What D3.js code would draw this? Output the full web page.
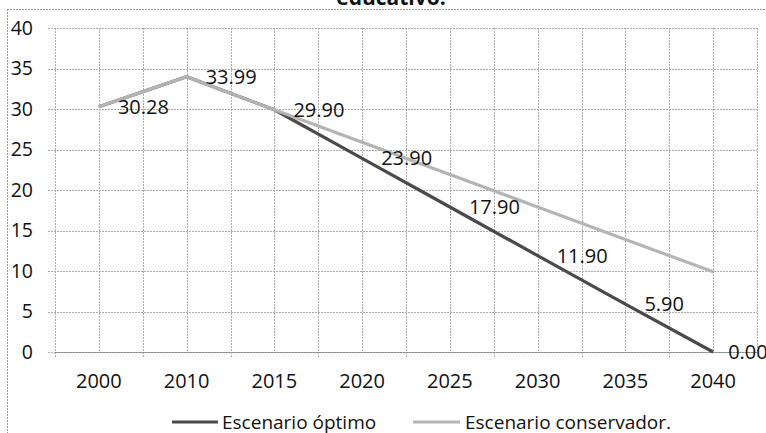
<!DOCTYPE html>
<html><head><meta charset="utf-8">
<script src="https://cdn.jsdelivr.net/npm/d3@7"></script>
<style>
html,body{margin:0;padding:0;background:#fff;}
svg{display:block;font-family:"Open Sans",sans-serif;}
</style></head>
<body>
<svg id="chart" width="766" height="433"></svg>
<script>
const years = ["2000","2010","2015","2020","2025","2030","2035","2040"];
const optimo = [30.28, 33.99, 29.90, 23.90, 17.90, 11.90, 5.90, 0.00];
const conservador = [30.28, 33.99, 29.90, 25.90, 21.90, 17.90, 13.90, 9.90];
const yTicks = [0,5,10,15,20,25,30,35,40];
const seriesNames = ["Escenario óptimo","Escenario conservador."];
const titleText = "educativo.";

(function(){
const svg = d3.select("#chart");
const pL = 55, pR = 757, pT = 28, pB = 352;

const x = d3.scaleBand().domain(years).range([pL, pR]).padding(0);
const y = d3.scaleLinear().domain([0,40]).range([pB, pT]);
const bw = x.bandwidth();

// outer chart border (partial)
svg.append("line").attr("x1",7).attr("x2",766).attr("y1",9.5).attr("y2",9.5)
  .attr("stroke","#999").attr("stroke-dasharray","2,1");
svg.append("line").attr("x1",7.5).attr("x2",7.5).attr("y1",9).attr("y2",433)
  .attr("stroke","#999").attr("stroke-dasharray","2,1");

// title (clipped at top, as in the reference)
svg.append("text").attr("x",391).attr("y",5).attr("text-anchor","middle")
  .attr("font-weight","bold").attr("font-size",21).attr("fill","#111").text(titleText);

const grid = svg.append("g").attr("stroke","#adadad").attr("stroke-dasharray","2,1").attr("stroke-width",1);
yTicks.forEach(t => {
  grid.append("line").attr("x1",48).attr("x2",pR).attr("y1",Math.round(y(t))+0.5).attr("y2",Math.round(y(t))+0.5);
});
years.forEach((yr,i) => {
  const x0 = x(yr);
  grid.append("line").attr("x1",Math.round(x0)+0.5).attr("x2",Math.round(x0)+0.5).attr("y1",pT).attr("y2",pB+6);
  grid.append("line").attr("x1",Math.round(x0+bw/2)+0.5).attr("x2",Math.round(x0+bw/2)+0.5).attr("y1",pT).attr("y2",pB);
});
grid.append("line").attr("x1",pR+0.5).attr("x2",pR+0.5).attr("y1",pT).attr("y2",pB+6);

svg.append("line").attr("x1",pL).attr("x2",pR).attr("y1",pB+0.5).attr("y2",pB+0.5)
  .attr("stroke","#888").attr("stroke-dasharray","2,1");

svg.append("g").selectAll("text").data(yTicks).join("text")
  .attr("x",33).attr("y",d=>y(d)).attr("dy","0.35em").attr("text-anchor","end")
  .attr("font-size",19.5).attr("fill","#111").text(d=>d);

svg.append("g").selectAll("text").data(years).join("text")
  .attr("x",d=>x(d)+bw/2).attr("y",388).attr("text-anchor","middle")
  .attr("font-size",20).attr("fill","#111").text(d=>d);

const line = d3.line().x((d,i)=>x(years[i])+bw/2).y(d=>y(d));
svg.append("path").datum(optimo).attr("d",line).attr("fill","none")
  .attr("stroke","#4a4a4a").attr("stroke-width",3.2);
svg.append("path").datum(conservador).attr("d",line).attr("fill","none")
  .attr("stroke","#b4b4b4").attr("stroke-width",3.2);

svg.append("g").selectAll("text").data(optimo).join("text")
  .attr("x",(d,i)=>x(years[i])+bw/2+(i===7?15:19)).attr("y",d=>y(d)).attr("dy","0.35em")
  .attr("font-size",20).attr("fill","#111").text(d=>d.toFixed(2));

const leg = [{n:seriesNames[0],c:"#4a4a4a",x1:172,x2:218,tx:222},{n:seriesNames[1],c:"#b4b4b4",x1:413,x2:460,tx:465}];
leg.forEach(l=>{
  svg.append("line").attr("x1",l.x1).attr("x2",l.x2).attr("y1",422).attr("y2",422)
    .attr("stroke",l.c).attr("stroke-width",3.2);
  svg.append("text").attr("x",l.tx).attr("y",422).attr("dy","0.35em")
    .attr("font-size",19).attr("fill","#111").text(l.n);
});
})();
</script>
</body></html>
